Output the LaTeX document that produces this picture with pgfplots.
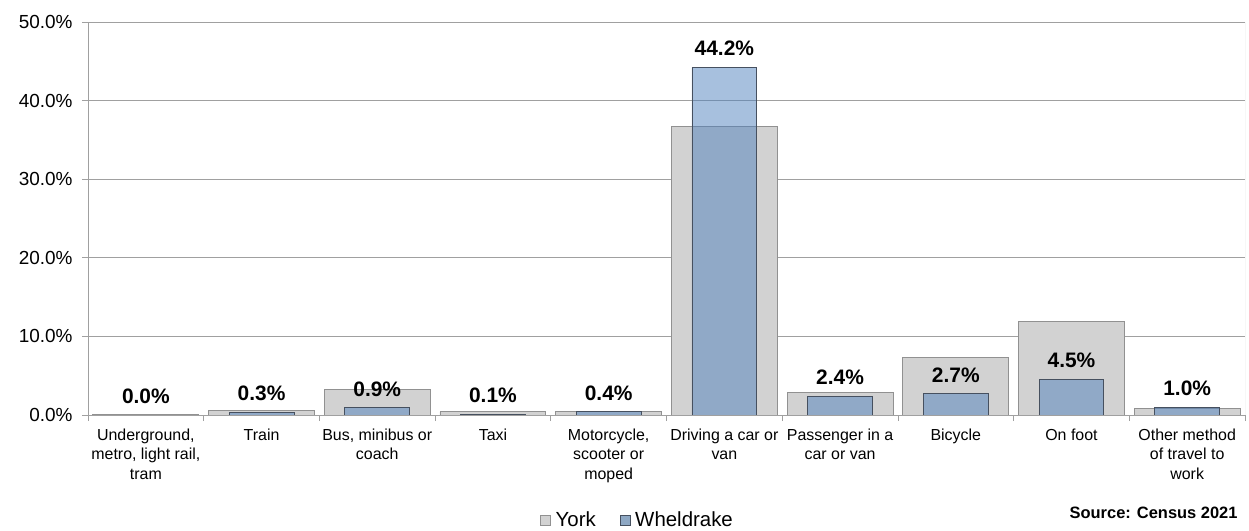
\documentclass[border=0pt]{standalone}
\usepackage{fontspec}
\setmainfont{Liberation Sans}
\usepackage{pgfplots}
\pgfplotsset{compat=1.18}
\definecolor{yorkfill}{RGB}{210,210,210}
\definecolor{yorkdraw}{RGB}{145,145,145}
\definecolor{wblue}{RGB}{79,129,189}
\definecolor{wsolid}{RGB}{142,168,196}
\definecolor{wdraw}{RGB}{70,80,95}
\definecolor{gridc}{RGB}{160,160,160}
\begin{document}
\begin{tikzpicture}
\path[use as bounding box] (0bp,0bp) rectangle (1249bp,531bp);
\begin{axis}[
  at={(88bp,116bp)}, anchor=south west,
  scale only axis, width=1157bp, height=393bp,
  xmin=-0.5, xmax=9.5, ymin=0, ymax=50,
  axis x line*=bottom, axis y line*=left,
  axis line style={draw=gridc, line width=0.8bp},
  ytick={0,10,20,30,40,50},
  ymajorgrids, grid style={draw=gridc, line width=0.8bp},
  tick align=outside, major tick length=6bp,
  tick style={draw=gridc, line width=0.8bp},
  /pgf/number format/assume math mode=true,
  yticklabel={\pgfmathprintnumber[fixed,fixed zerofill,precision=1]{\tick}\%},
  yticklabel style={font=\fontsize{19}{22}\selectfont, xshift=-6bp},
  xtick={-0.5,0.5,1.5,2.5,3.5,4.5,5.5,6.5,7.5,8.5,9.5},
  xticklabels={{Underground,\\metro, light rail,\\tram},{Train},{Bus, minibus or\\coach},{Taxi},{Motorcycle,\\scooter or\\moped},{Driving a car or\\van},{Passenger in a\\car or van},{Bicycle},{On foot},{Other method\\of travel to\\work},{}},
  xticklabel style={font=\fontsize{16}{20}\selectfont, align=center, xshift=57.85bp, yshift=-4bp},
  legend style={at={(0.475,-0.267)}, anchor=center, draw=none, legend columns=2,
    font=\fontsize{20.5}{24}\selectfont,
    /tikz/every even column/.append style={column sep=22bp}},
  legend image code/.code={\draw[#1] (0bp,-5bp) rectangle (10bp,5bp); \path (13bp,0bp);},
]
\addlegendimage{fill=yorkfill, draw=yorkdraw}
\addlegendentry{York}
\addlegendimage{fill=wsolid, draw=wdraw}
\addlegendentry{Wheldrake}
\addplot[ybar, bar width=0.916, bar shift=0pt, fill=yorkfill, draw=yorkdraw, line width=0.9bp, forget plot]
  coordinates {(0,0.1) (1,0.6) (2,3.3) (3,0.4) (4,0.5) (5,36.7) (6,2.9) (7,7.3) (8,11.9) (9,0.8)};
\addplot[ybar, bar width=0.56, bar shift=0pt, fill=wblue, fill opacity=0.5, draw=wdraw, line width=0.9bp, forget plot,
  nodes near coords={\pgfmathprintnumber[fixed,fixed zerofill,precision=1]{\pgfplotspointmeta}\%},
  every node near coord/.append style={font=\fontsize{21}{24}\selectfont\bfseries, text opacity=1, fill opacity=1, anchor=south, inner sep=0pt, yshift=11bp}]
  coordinates {(0,0.0) (1,0.3) (2,0.9) (3,0.1) (4,0.4) (5,44.2) (6,2.4) (7,2.7) (8,4.5) (9,1.0)};
\draw[draw=yorkfill!80!gray, line width=0.8bp] (rel axis cs:1,0) -- (rel axis cs:1,1);
\end{axis}
\node[anchor=east, font=\fontsize{16.5}{20}\selectfont\bfseries] at (1241bp,18bp) {Source: Census 2021};
\end{tikzpicture}
\end{document}
